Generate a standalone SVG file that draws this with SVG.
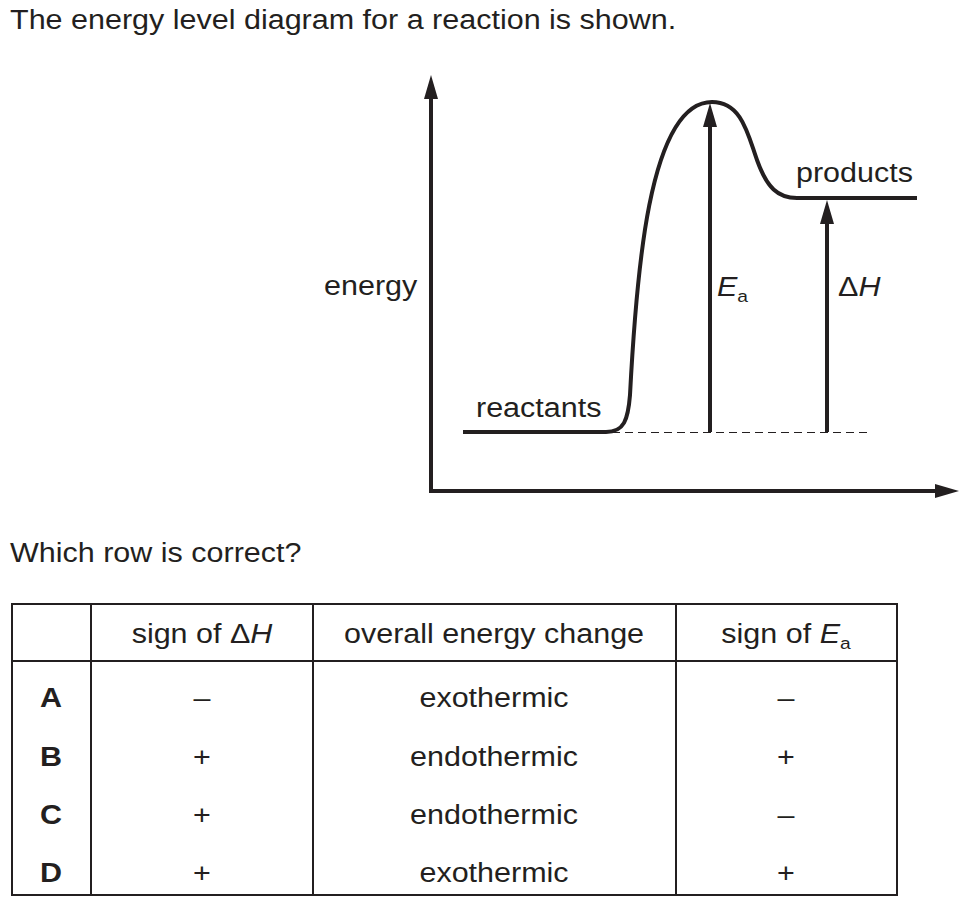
<svg xmlns="http://www.w3.org/2000/svg" width="976" height="909" viewBox="0 0 976 909">
<style>
text{font-family:"Liberation Sans",Arial,Helvetica,sans-serif;font-size:27px;fill:#231f20}
.c{text-anchor:middle}
.b{font-weight:bold}
.i{font-style:italic}
.sub{font-size:17px}
.thick{fill:none;stroke:#231f20;stroke-width:4}
.grid{fill:none;stroke:#231f20;stroke-width:2}
.dash{fill:none;stroke:#231f20;stroke-width:1;stroke-dasharray:8 5}
</style>
<defs>
<marker id="ah" viewBox="0 0 24 14" markerWidth="24" markerHeight="14" refX="6" refY="7" orient="auto-start-reverse" markerUnits="userSpaceOnUse">
<path d="M0,0 L24,7 L0,14 z" fill="#231f20"/>
</marker>
</defs>
<rect width="976" height="909" fill="#fff"/>
<g id="title"><text transform="translate(10,29) scale(1.13,1)">The energy level diagram for a reaction is shown.</text></g>
<g id="axes"><path class="thick" d="M431,93 V491 H941" marker-start="url(#ah)" marker-end="url(#ah)"/></g>
<g id="energy-label"><text transform="translate(324,295) scale(1.13,1)">energy</text></g>
<g id="profile"><path class="thick" d="M463,432 H606 C624,432 628,420 630,395 C636,280 648,102 712,102 C742,102 748,135 757,160 C767,188 778,198 797,198 H917"/></g>
<g id="baseline"><path class="dash" d="M612,432.5 H871"/></g>
<g id="reactants"><text transform="translate(476,417) scale(1.13,1)">reactants</text></g>
<g id="products"><text transform="translate(796,182) scale(1.13,1)">products</text></g>
<g id="connectors">
<path class="thick" d="M710,432 V121" marker-end="url(#ah)"/>
<path class="thick" d="M827,432 V218" marker-end="url(#ah)"/>
</g>
<g id="Ea-label"><text transform="translate(717,296) scale(1.13,1)"><tspan class="i">E</tspan><tspan class="sub" dy="6">a</tspan></text></g>
<g id="dH-label"><text transform="translate(838,296) scale(1.13,1)">Δ<tspan class="i">H</tspan></text></g>
<g id="question"><text transform="translate(10,562) scale(1.13,1)">Which row is correct?</text></g>
<g id="table">
<rect class="grid" x="12" y="604" width="885" height="291"/>
<path class="grid" d="M91,604 V895 M313,604 V895 M676,604 V895 M12,661 H897"/>
<text class="c" transform="translate(202,643) scale(1.13,1)">sign of Δ<tspan class="i">H</tspan></text>
<text class="c" transform="translate(494,643) scale(1.13,1)">overall energy change</text>
<text class="c" transform="translate(786,643) scale(1.13,1)">sign of <tspan class="i">E</tspan><tspan class="sub" dy="6">a</tspan></text>
<text class="c b" transform="translate(51,707) scale(1.13,1)">A</text>
<text class="c b" transform="translate(51,766) scale(1.13,1)">B</text>
<text class="c b" transform="translate(51,824) scale(1.13,1)">C</text>
<text class="c b" transform="translate(51,882) scale(1.13,1)">D</text>
<text class="c" transform="translate(202,707) scale(1.13,1)">–</text>
<text class="c" transform="translate(202,766) scale(1.13,1)">+</text>
<text class="c" transform="translate(202,824) scale(1.13,1)">+</text>
<text class="c" transform="translate(202,882) scale(1.13,1)">+</text>
<text class="c" transform="translate(494,707) scale(1.13,1)">exothermic</text>
<text class="c" transform="translate(494,766) scale(1.13,1)">endothermic</text>
<text class="c" transform="translate(494,824) scale(1.13,1)">endothermic</text>
<text class="c" transform="translate(494,882) scale(1.13,1)">exothermic</text>
<text class="c" transform="translate(786,707) scale(1.13,1)">–</text>
<text class="c" transform="translate(786,766) scale(1.13,1)">+</text>
<text class="c" transform="translate(786,824) scale(1.13,1)">–</text>
<text class="c" transform="translate(786,882) scale(1.13,1)">+</text>
</g>
</svg>
